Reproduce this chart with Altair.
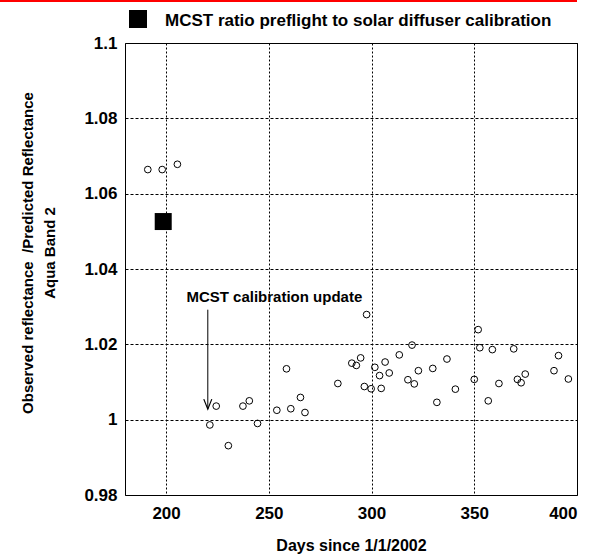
import altair as alt
import pandas as pd

# Observed / predicted reflectance ratio, Aqua band 2
days = [191.1, 198.1, 205.5, 221.3, 224.4, 230.3, 237.4, 240.5, 244.5, 253.9,
        258.6, 260.7, 265.4, 267.6, 283.6, 290.4, 292.6, 294.7, 296.5, 297.6,
        299.8, 301.6, 303.9, 304.7, 306.6, 308.6, 313.5, 317.7, 319.7, 320.8,
        322.8, 329.8, 331.8, 336.7, 340.8, 350.0, 351.9, 352.7, 356.8, 358.8,
        362.0, 369.2, 371.0, 372.8, 374.8, 388.8, 391.0, 395.8]
ratio = [1.0664, 1.0664, 1.0678, 0.9986, 1.0036, 0.9931, 1.0036, 1.0050, 0.9990, 1.0025,
         1.0135, 1.0029, 1.0059, 1.0019, 1.0096, 1.0150, 1.0144, 1.0164, 1.0088, 1.0279,
         1.0082, 1.0139, 1.0117, 1.0083, 1.0153, 1.0124, 1.0172, 1.0106, 1.0198, 1.0095,
         1.0130, 1.0136, 1.0046, 1.0161, 1.0081, 1.0107, 1.0239, 1.0191, 1.0050, 1.0186,
         1.0096, 1.0188, 1.0107, 1.0098, 1.0121, 1.0130, 1.0170, 1.0108]

# MCST ratio preflight to solar diffuser calibration
mcst_day = [198.6]
mcst_ratio = [1.0526]

# annotation
update_day = [220.3]
arrow_top = [1.0292]
arrow_tip = [1.0028]
label_day = [209.9]
label_ratio = [1.0325]

x_ticks = [200, 250, 300, 350, 400]
y_ticks = [0.98, 1.0, 1.02, 1.04, 1.06, 1.08, 1.1]

FONT = "Liberation Sans"

xs = alt.Scale(domain=[180, 400], nice=False, zero=False)
ys = alt.Scale(domain=[0.98, 1.1], nice=False, zero=False)

obs = pd.DataFrame({"day": days, "ratio": ratio})
mc = pd.DataFrame({"day": mcst_day, "ratio": mcst_ratio})
arr = pd.DataFrame({"day": update_day, "top": arrow_top, "tip": arrow_tip})
lab = pd.DataFrame({"day": label_day, "ratio": label_ratio,
                    "t": ["MCST calibration update"]})
one = pd.DataFrame({"a": [0]})

points = alt.Chart(obs).mark_point(
    shape="circle", filled=False, color="black", strokeWidth=1, size=45, opacity=1
).encode(
    x=alt.X("day:Q", scale=xs,
            axis=alt.Axis(values=x_ticks, title="Days since 1/1/2002", format="d",
                          grid=True, gridDash=[2, 2], labelPadding=10,
                          titlePadding=16)),
    y=alt.Y("ratio:Q", scale=ys,
            axis=alt.Axis(values=y_ticks, title=None, grid=True, gridDash=[3, 2],
                          labelPadding=8,
                          labelExpr="'' + round(datum.value * 100) / 100")),
)

square = alt.Chart(mc).mark_point(
    shape="square", filled=True, color="black", size=289, opacity=1
).encode(
    x=alt.X("day:Q", scale=xs),
    y=alt.Y("ratio:Q", scale=ys),
)

shaft = alt.Chart(arr).mark_rule(color="black", strokeWidth=1).encode(
    x=alt.X("day:Q", scale=xs),
    y=alt.Y("top:Q", scale=ys),
    y2="tip:Q",
)

head = alt.Chart(arr).mark_point(
    shape="M-2,-5L0,0L2,-5", filled=False, color="black", strokeWidth=1.2,
    size=16, opacity=1
).encode(
    x=alt.X("day:Q", scale=xs),
    y=alt.Y("tip:Q", scale=ys),
)

label = alt.Chart(lab).mark_text(
    align="left", baseline="middle", font=FONT, fontWeight="bold", fontSize=15,
    color="black"
).encode(
    x=alt.X("day:Q", scale=xs),
    y=alt.Y("ratio:Q", scale=ys),
    text="t:N",
)

red_line = alt.Chart(one).mark_rule(color="#ff0000", strokeWidth=2).encode(
    x=alt.value(-125), x2=alt.value(452), y=alt.value(-42)
)

legend_sq = alt.Chart(one).mark_point(
    shape="square", filled=True, color="black", size=324, opacity=1
).encode(x=alt.value(13), y=alt.value(-24))

legend_txt = alt.Chart(one).mark_text(
    align="left", baseline="alphabetic", font=FONT, fontWeight="bold",
    fontSize=17, color="black",
    text="MCST ratio preflight to solar diffuser calibration"
).encode(x=alt.value(40), y=alt.value(-17))

ytitle1 = alt.Chart(one).mark_text(
    align="center", baseline="middle", font=FONT, fontWeight="bold", fontSize=15,
    angle=270, color="black",
    text="Observed reflectance\u00a0\u00a0/Predicted Reflectance"
).encode(x=alt.value(-97), y=alt.value(210))

ytitle2 = alt.Chart(one).mark_text(
    align="center", baseline="middle", font=FONT, fontWeight="bold", fontSize=15,
    angle=270, color="black", text="Aqua Band 2"
).encode(x=alt.value(-75), y=alt.value(210))

chart = alt.layer(
    points, square, shaft, head, label, red_line, legend_sq, legend_txt,
    ytitle1, ytitle2
).properties(
    width=452, height=452, autosize="none",
    padding={"left": 125, "top": 43, "right": 28, "bottom": 65},
    background="white",
).configure_view(
    stroke="black", strokeWidth=1
).configure_axis(
    domain=False, ticks=False, tickSize=0,
    grid=True, gridColor="black", gridWidth=1, gridOpacity=1,
    labelFont=FONT, labelFontWeight="bold", labelFontSize=17, labelColor="black",
    titleFont=FONT, titleFontWeight="bold", titleFontSize=16, titleColor="black",
)

chart.save("out.html", embed_options={"renderer": "svg", "actions": False})
